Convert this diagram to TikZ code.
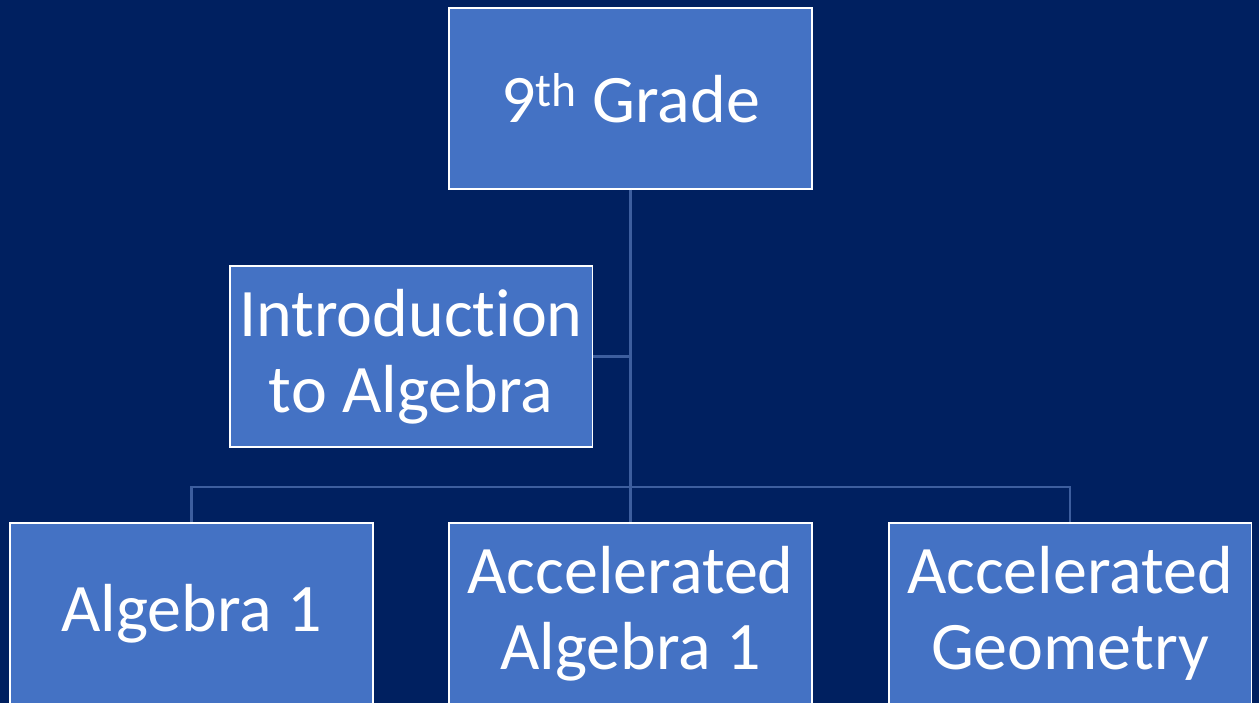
\documentclass[tikz,border=0pt]{standalone}
\usepackage{fontspec}
\setmainfont{Carlito}[Ligatures={NoCommon,NoContextual,NoRequired},RawFeature=-dlig]
\usepackage{tikz}
\usetikzlibrary{positioning}
\definecolor{slidebg}{HTML}{002060}
\definecolor{boxfill}{HTML}{4472C4}
\definecolor{linkcol}{HTML}{3D5E9E}
\tikzset{course/.style={draw=white,line width=1.1pt,fill=boxfill,text=white,align=center,minimum width=7.26cm,minimum height=3.62cm,inner sep=0pt,font=\fontsize{38.7}{43}\selectfont},link/.style={draw=linkcol,line width=1.2pt}}
\begin{document}
\begin{tikzpicture}[x=0.02cm,y=-0.02cm]
\clip (0,0) rectangle (1259,703);
\fill[slidebg] (0,0) rectangle (1259,703);
\node[course] (grade) at (630.5,98.5) {9\textsuperscript{th} Grade};
\node[course] (intro) at (411,356.5) {Introduc\kern0pt tion\\to Algebra};
\node[course] (alg1) at (191.5,613.5) {Algebra 1};
\node[course] (accalg) at (630.5,613.5) {Accelerated\\Algebra 1};
\node[course] (accgeo) at (1070,613.5) {Accelerated\\Geometry};
\coordinate (bus) at (630.5,487);
\draw[link] (grade) -- (grade |- accalg.north);
\draw[link] (intro.east) -- (intro.east -| grade);
\draw[link] (alg1.north) |- (bus) -| (accgeo.north);
\end{tikzpicture}
\end{document}
